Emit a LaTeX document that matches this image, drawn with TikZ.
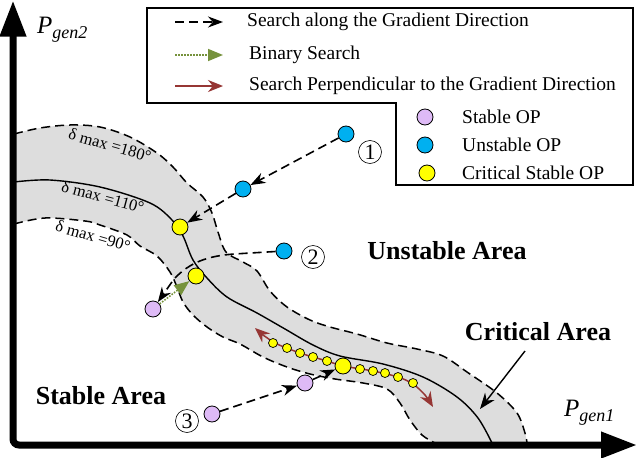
\documentclass[tikz,border=0pt]{standalone}
\usepackage{fontspec}
\setmainfont{Liberation Serif}
\usetikzlibrary{arrows.meta}
\definecolor{bandgray}{RGB}{221,221,221}
\definecolor{opblue}{RGB}{0,176,240}
\definecolor{oppurple}{RGB}{222,186,246}
\definecolor{opyellow}{RGB}{255,255,0}
\definecolor{bingreen}{RGB}{118,146,60}
\definecolor{perpred}{RGB}{150,54,52}
\begin{document}
\begin{tikzpicture}[x=1pt,y=-1pt,
  op/.style={circle,draw=black,line width=0.8pt,minimum size=16pt,inner sep=0pt},
  smallop/.style={circle,draw=black,line width=0.7pt,minimum size=9pt,inner sep=0pt,fill=opyellow},
  gradarrow/.style={line width=1.6pt,dash pattern=on 9pt off 5pt,-{Stealth[length=15pt,width=11pt]}},
  binarrow/.style={bingreen,line width=1.6pt,dash pattern=on 1.6pt off 1.4pt,-{Triangle[length=15pt,width=12pt]}},
  perparrow/.style={perpred,line width=1.5pt},
  bandline/.style={line width=1.5pt,dash pattern=on 9pt off 5pt},
  legtext/.style={anchor=west,inner sep=0pt,font=\fontsize{19.5}{22}\selectfont},
  arealabel/.style={font=\fontsize{26}{28}\selectfont\bfseries,inner sep=0pt},
  deltalabel/.style={font=\fontsize{16.5}{18}\selectfont,inner sep=0pt},
  circnum/.style={circle,draw=black,line width=0.6pt,minimum size=23pt,inner sep=0pt,font=\fontsize{22}{22}\selectfont}
]
\useasboundingbox (0,0) rectangle (638,458);

% band fill
\fill[bandgray] plot[smooth,tension=0.55] coordinates {(14,134) (40,128) (70,125) (100,127) (130,137) (157,153) (173,167) (187,183) (203,197) (212,213) (218,232) (226,252) (243,262) (257,271) (270,291) (287,307) (310,320) (330,327) (357,334) (387,343) (417,349) (443,356) (467,372) (497,393) (517,413) (525,433) (527,443)}
 -- (435,443) -- plot[smooth,tension=0.55] coordinates {(435,443) (422,435) (410,420) (400,403) (387,389) (363,383) (335,379) (310,374) (287,367) (263,357) (240,344) (223,337) (207,327) (193,315) (183,302) (177,287) (170,272) (157,256) (140,246) (127,235) (100,225) (85,221) (45,218) (14,224)} -- cycle;
% band boundaries
\draw[bandline] plot[smooth,tension=0.55] coordinates {(14,134) (40,128) (70,125) (100,127) (130,137) (157,153) (173,167) (187,183) (203,197) (212,213) (218,232) (226,252) (243,262) (257,271) (270,291) (287,307) (310,320) (330,327) (357,334) (387,343) (417,349) (443,356) (467,372) (497,393) (517,413) (525,433) (527,443)};
\draw[bandline] plot[smooth,tension=0.55] coordinates {(14,224) (45,218) (85,221) (100,225) (127,235) (140,246) (157,256) (170,272) (177,287) (183,302) (193,315) (207,327) (223,337) (240,344) (263,357) (287,367) (310,374) (335,379) (363,383) (387,389) (400,403) (410,420) (422,435) (435,443)};
% central solid line
\draw[line width=1.4pt] plot[smooth,tension=0.55] coordinates {(14,182) (50,180) (100,187) (150,203) (172,220) (183,236) (193,260) (207,278) (227,297) (257,313) (285,329) (313,345) (340,356) (383,364) (423,377) (457,397) (478,418) (492,443)};

% delta labels
\node[deltalabel,rotate=-16] (d180) at (110,145) {δ max =180°};
\node[deltalabel,rotate=-15] (d110) at (103,197) {δ max =110°};
\node[deltalabel,rotate=-16] (d90) at (93,236) {δ max =90°};

% axes
\draw[line width=7pt,rounded corners=6pt,{Triangle[length=36pt,width=25pt]}-{Triangle[length=36pt,width=25pt]}] (13,0.5) -- (13,445) -- (637,445);
\node[anchor=west,inner sep=0pt] (pg2) at (37,30) {\fontsize{25}{25}\selectfont\itshape P\raisebox{-5pt}{\fontsize{18}{18}\selectfont gen2}};
\node[anchor=west,inner sep=0pt] (pg1) at (564,413) {\fontsize{25}{25}\selectfont\itshape P\raisebox{-5pt}{\fontsize{18}{18}\selectfont gen1}};

% operating points
\node[op,fill=opblue] (b1) at (346,134) {};
\node[op,fill=opblue] (b2) at (243,189) {};
\node[op,fill=opblue] (b3) at (284,251) {};
\node[op,fill=opyellow] (y1) at (180,227) {};
\node[op,fill=opyellow] (y2) at (196,276) {};
\node[op,fill=oppurple] (p1) at (153,309) {};
\node[op,fill=oppurple] (p2) at (305,383) {};
\node[op,fill=oppurple] (p3) at (212,414) {};

% red perpendicular search
\coordinate (ra) at (255,328);
\coordinate (rb) at (433,407);
\draw[perparrow,{Stealth[length=15pt,width=12pt]}-{Stealth[length=15pt,width=12pt]}] plot[smooth,tension=0.5] coordinates {(ra) (273,342) (300,353) (327,361) (343,366) (373,371) (398,377) (413,384) (425,395) (rb)};
\node[smallop] (s1) at (273,343) {};
\node[smallop] (s2) at (287,348) {};
\node[smallop] (s3) at (300,353) {};
\node[smallop] (s4) at (313,357) {};
\node[smallop] (s5) at (327,361) {};
\node[smallop] (s6) at (360,369) {};
\node[smallop] (s7) at (373,371) {};
\node[smallop] (s8) at (385,373) {};
\node[smallop] (s9) at (398,377) {};
\node[smallop] (s10) at (413,383) {};
\node[op,fill=opyellow] (y3) at (343,366) {};

% gradient search arrows
\draw[gradarrow] (b1) -- (b2);
\draw[gradarrow] (b2) -- (y1);
\coordinate (c2a) at (234,254);
\coordinate (c2c) at (174,279);
\draw[gradarrow] (b3) -- (c2a) .. controls (208,256) and (190,262) .. (c2c) -- (p1);
\draw[binarrow] (p1) -- (y2);
\draw[gradarrow] (p3) -- (p2);
\draw[gradarrow] (p2) -- (y3);

% circled numbers
\node[circnum] (n1) at (370,152) {1};
\node[circnum] (n2) at (313,257) {2};
\node[circnum] (n3) at (187,421) {3};

% area labels
\node[arealabel] (ua) at (447,251) {Unstable Area};
\node[arealabel] (ca) at (538,332) {Critical Area};
\node[arealabel] (sa) at (101,396) {Stable Area};
\coordinate (castart) at (525,351);
\coordinate (catip) at (480,409);
\draw[line width=1.4pt,-{Stealth[length=16pt,width=12pt]}] (castart) -- (catip);

% legend
\draw[line width=1.4pt,fill=white] (147,8) -- (633,8) -- (633,185) -- (396,185) -- (396,103) -- (147,103) -- cycle;
\coordinate (l1a) at (175,22); \coordinate (l1b) at (223,22);
\coordinate (l2a) at (175,55); \coordinate (l2b) at (223,55);
\coordinate (l3a) at (175,86); \coordinate (l3b) at (223,86);
\draw[gradarrow] (l1a) -- (l1b);
\draw[binarrow] (l2a) -- (l2b);
\draw[perparrow,-{Stealth[length=15pt,width=12pt]}] (l3a) -- (l3b);
\node[legtext] (t1) at (247,22) {Search along the Gradient Direction};
\node[legtext] (t2) at (249,55) {Binary Search};
\node[legtext] (t3) at (249,86) {Search Perpendicular to the Gradient Direction};
\node[op,fill=oppurple] (lp) at (425,117) {};
\node[op,fill=opblue] (lb) at (425,145) {};
\node[op,fill=opyellow] (ly) at (427,173) {};
\node[legtext] (t4) at (462,117) {Stable OP};
\node[legtext] (t5) at (462,145) {Unstable OP};
\node[legtext] (t6) at (462,173) {Critical Stable OP};
\end{tikzpicture}
\end{document}
